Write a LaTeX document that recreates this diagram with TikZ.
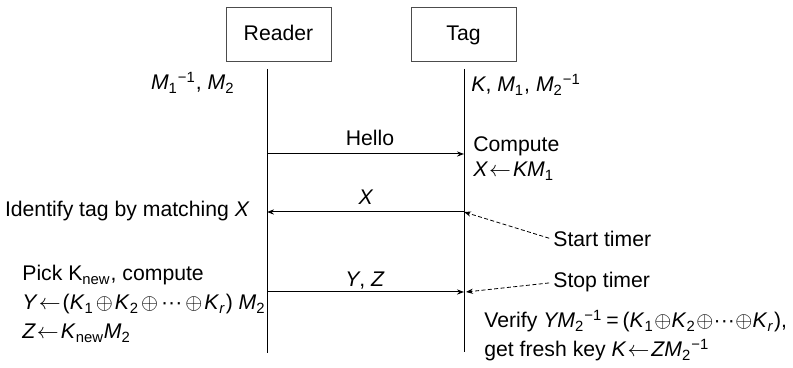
\documentclass[tikz,border=0pt]{standalone}
\usepackage{fontspec}
\setmainfont{Liberation Sans}
\usetikzlibrary{arrows.meta,positioning}
\newcommand{\mvar}[1]{\textit{#1}}
\newcommand{\lo}[1]{\textsubscript{#1}}
\newcommand{\hi}[1]{\textsuperscript{#1}}
\newcommand{\xo}{\kern1pt$\oplus$\kern1pt}
\newcommand{\xot}{\kern0.2pt$\oplus$\kern0.2pt}
\newcommand{\xdots}{\kern0.5pt···\kern0.5pt}
\newcommand{\assign}{\kern0.5pt$\leftarrow$\kern1pt}

\begin{document}
\begin{tikzpicture}[x=0.5pt,y=-0.5pt,font=\fontsize{10.6}{12}\selectfont,
  party/.style={draw=black!70,line width=0.5pt,minimum width=52.5pt,minimum height=27pt,inner sep=0pt,text height=7.6pt,text depth=2pt},
  life/.style={line width=0.5pt},
  msg/.style={line width=0.5pt,-{Stealth[length=3.5pt,width=2.6pt]}},
  note/.style={line width=0.4pt,dash pattern=on 2pt off 1.2pt,shorten <=2pt,-{Stealth[length=3.5pt,width=2.6pt]}},
  lbl/.style={inner sep=0pt}]
\useasboundingbox (0,0) rectangle (793,368);
% Parties
\node[party] (reader) at (278.5,35) {Reader};
\node[party] (tag) at (463.5,35) {Tag};
% Lifelines
\coordinate (r0) at (267,69);
\coordinate (r1) at (267,353);
\coordinate (t0) at (464,69);
\coordinate (t1) at (464,352);
\draw[life] (r0) -- (r1);
\draw[life] (t0) -- (t1);
% Stored secrets
\node[lbl,anchor=base east] (rkeys) at (235,90) {\mvar{M}\lo{1}\hi{−1}, \mvar{M}\lo{2}};
\node[lbl,anchor=base west] (tkeys) at (471,92) {\mvar{K}, \mvar{M}\lo{1}, \mvar{M}\lo{2}\hi{−1}};
% Hello
\coordinate (rh) at (267,154);
\coordinate (th) at (464,154);
\draw[msg] (rh) -- (th);
\node[lbl,anchor=base] (hello) at (370,146) {Hello};
\node[lbl,anchor=base west] (comp1) at (473,152) {Compute};
\node[lbl,anchor=base west] (comp2) at (473,177) {\mvar{X}\assign\mvar{KM}\lo{1}};
% X
\coordinate (tx) at (464,212);
\coordinate (rx) at (267,212);
\draw[msg] (tx) -- (rx);
\node[lbl,anchor=base] (xlbl) at (366,205) {\mvar{X}};
\node[lbl,anchor=base east] (ident) at (250,217) {Identify tag by matching \mvar{X}};
\node[lbl,anchor=base west] (start) at (553,247) {Start timer};
\draw[note] (start.west) -- (tx);
% Y, Z
\coordinate (ry) at (267,292);
\coordinate (ty) at (464,292);
\draw[msg] (ry) -- (ty);
\node[lbl,anchor=base] (yzlbl) at (365,287) {\mvar{Y}, \mvar{Z}};
\node[lbl,anchor=base west] (stop) at (553,288) {Stop timer};
\draw[note] (stop.west) -- ([xshift=1pt]ty);
\node[lbl,anchor=base west] (pick1) at (22,281) {Pick K\lo{new}, compute};
\node[lbl,anchor=base west] (pick2) at (22,310) {\mvar{Y}\assign(\mvar{K}\lo{1}\xo\mvar{K}\lo{2}\xo\xdots\xo\mvar{K}\lo{\mvar{r}}) \mvar{M}\lo{2}};
\node[lbl,anchor=base west] (pick3) at (22,339) {\mvar{Z}\assign\mvar{K}\lo{new}\mvar{M}\lo{2}};
\node[lbl,anchor=base west] (ver1) at (484,328) {Verify \mvar{YM}\lo{2}\hi{−1}\kern2pt=\kern2pt(\mvar{K}\lo{1}\xot\mvar{K}\lo{2}\xot···\xot\mvar{K}\lo{\mvar{r}}),};
\node[lbl,anchor=base west] (ver2) at (484,357) {get fresh key \mvar{K}\assign\mvar{ZM}\lo{2}\hi{−1}};
\end{tikzpicture}
\end{document}
